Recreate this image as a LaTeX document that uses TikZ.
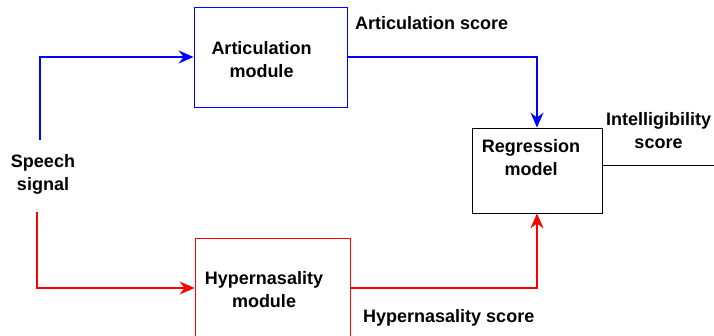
\documentclass[tikz,border=0pt]{standalone}
\usepackage{fontspec}
\setmainfont{Liberation Sans}
\usetikzlibrary{arrows.meta}
\begin{document}
\begin{tikzpicture}[x=1pt,y=-1pt,
  box/.style={draw,rectangle,inner sep=0pt,line width=0.8pt},
  lbl/.style={font=\fontsize{18}{23}\selectfont\bfseries,align=center,inner sep=0pt},
  conn/.style={line width=1.8pt,-{Stealth[length=15pt,width=13pt,inset=5pt]}}]
\useasboundingbox (0,0) rectangle (714,336);
\clip (0,0) rectangle (714,336);
\node[box,draw=blue,minimum width=153pt,minimum height=100pt] (art) at (270.5,57) {};
\node[box,draw=black,minimum width=130pt,minimum height=85pt] (reg) at (537,170.5) {};
\node[box,draw=red,minimum width=155pt,minimum height=100pt] (hyp) at (272.5,288) {};
\node[lbl] (artt) at (261.5,60) {Articulation\\module};
\node[lbl] (regt) at (531,158) {Regression\\model};
\node[lbl] (hypt) at (264,290) {Hypernasality\\module};
\node[lbl] (speech) at (43,174) {Speech\\signal};
\node[lbl] (intel) at (658.5,131) {Intelligibility\\score};
\node[lbl,anchor=base west] (arts) at (355,30) {Articulation score};
\node[lbl,anchor=base west] (hyps) at (363,322) {Hypernasality score};
\coordinate (s1) at (40,140);
\coordinate (s2) at (37,212);
\coordinate (out) at (714,165);
\draw[conn,blue] (s1) |- (art.west);
\draw[conn,blue] (art.east) -| (reg.north);
\draw[conn,red] (s2) |- (hyp.west);
\draw[conn,red] (hyp.east) -| (reg.south);
\draw[line width=0.8pt] (reg.east |- out) -- (out);
\end{tikzpicture}
\end{document}
